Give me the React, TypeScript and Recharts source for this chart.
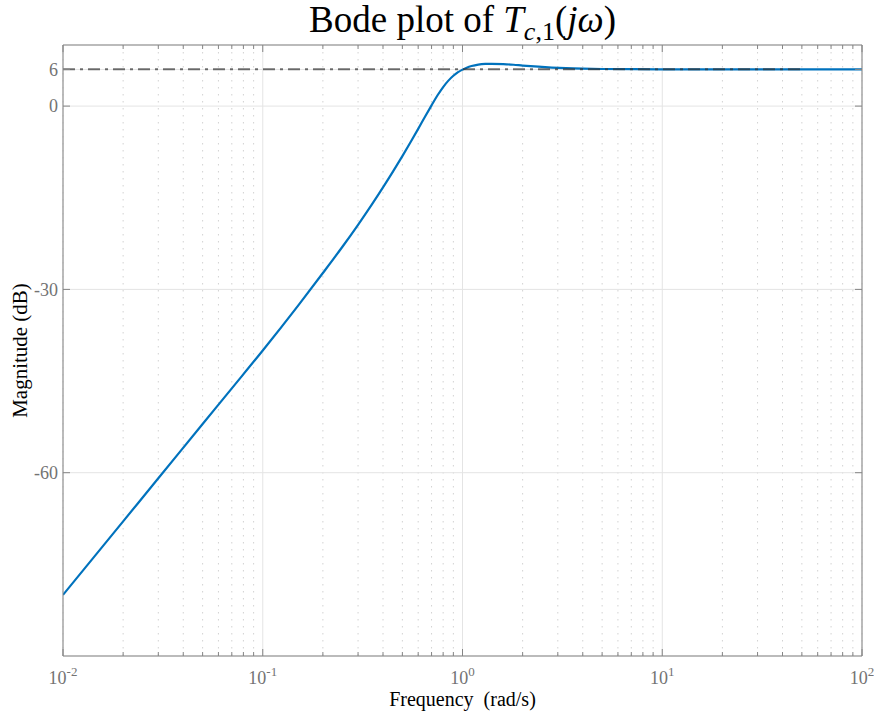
import React from 'react';
import { LineChart, Line, XAxis, YAxis, CartesianGrid } from 'recharts';

// magnitude response (rad/s, dB)
const freq = [
  0.01, 0.02, 0.03, 0.05, 0.07, 0.1, 0.15, 0.2, 0.25, 0.3, 0.35, 0.4, 0.45, 0.5, 0.55, 0.6,
  0.65, 0.7, 0.75, 0.8, 0.85, 0.9, 0.95, 1.0, 1.05, 1.11, 1.2, 1.3, 1.4, 1.6, 1.8, 2.0, 2.4, 2.8,
  3.3, 4.0, 5.0, 7, 10, 20, 50, 100,
];
const magnitude = [
  -80, -67.96, -60.92, -52.04, -46.2, -40, -32.69, -27.32, -23.06, -19.42, -16.21, -13.31, -10.65, -8.18, -5.88, -3.73,
  -1.71, 0.12, 1.77, 3.12, 4.17, 4.96, 5.55, 5.97, 6.29, 6.56, 6.8, 6.9, 6.92, 6.87, 6.77, 6.64, 6.45, 6.31,
  6.2, 6.12, 6.07, 6.04, 6.02, 6.02, 6.02, 6.02,
];

// high-frequency asymptote (dash-dot)
const asymptoteFreq = [0.01, 50];
const asymptoteDb = [6.02, 6.02];

const xTicks = [0.01, 0.1, 1, 10, 100];
const xTickExponents = ['-2', '-1', '0', '1', '2'];
const xMinorTicks = [
  0.02, 0.03, 0.04, 0.05, 0.06, 0.07, 0.08, 0.09,
  0.2, 0.3, 0.4, 0.5, 0.6, 0.7, 0.8, 0.9,
  2, 3, 4, 5, 6, 7, 8, 9,
  20, 30, 40, 50, 60, 70, 80, 90,
];
const yTicks = [-60, -30, 0, 6];

const W = 874;
const H = 711;
const FONT = '"Liberation Serif", "Times New Roman", serif';
const TICK_COLOR = '#737373';
const AXIS_COLOR = '#858585';
const BLUE = '#0072BD';
const MAJOR_LEN = 7;
const MINOR_LEN = 4;

const data = freq.map((f, i) => ({ f, mag: magnitude[i] }));
const asymptote = asymptoteFreq.map((f, i) => ({ f, mag: asymptoteDb[i] }));
const allXTicks = [...xTicks, ...xMinorTicks].sort((a, b) => a - b);

// bottom axis: inward tick mark + 10^n label
function BottomTick(props: any) {
  const { x, y, payload } = props;
  const i = xTicks.indexOf(payload.value);
  const major = i >= 0;
  return (
    <g>
      <line x1={x} x2={x} y1={y} y2={y - (major ? MAJOR_LEN : MINOR_LEN)} stroke={AXIS_COLOR} />
      {major && (
        <text x={x} y={y + 28} textAnchor="middle" fill={TICK_COLOR} fontFamily={FONT} fontSize={18}>
          <tspan>10</tspan>
          <tspan dy={-8} fontSize={13}>{xTickExponents[i]}</tspan>
        </text>
      )}
    </g>
  );
}

function TopTick(props: any) {
  const { x, y, payload } = props;
  const major = xTicks.includes(payload.value);
  return <line x1={x} x2={x} y1={y} y2={y + (major ? MAJOR_LEN : MINOR_LEN)} stroke={AXIS_COLOR} />;
}

function LeftTick(props: any) {
  const { x, y, payload } = props;
  return (
    <g>
      <line x1={x} x2={x + MAJOR_LEN} y1={y} y2={y} stroke={AXIS_COLOR} />
      <text x={x - 5} y={y} dy="0.35em" textAnchor="end" fill={TICK_COLOR} fontFamily={FONT} fontSize={18}>
        {payload.value}
      </text>
    </g>
  );
}

function RightTick(props: any) {
  const { x, y } = props;
  return <line x1={x} x2={x - MAJOR_LEN} y1={y} y2={y} stroke={AXIS_COLOR} />;
}

export default function App() {
  const common = {
    type: 'number' as const,
    scale: 'log' as const,
    domain: [0.01, 100],
    allowDataOverflow: true,
    dataKey: 'f',
    interval: 0 as const,
    tickLine: false,
    tickSize: 0,
    tickMargin: 0,
  };
  return (
    <div style={{ position: 'absolute', left: 0, top: 0, background: '#fff' }}>
      <LineChart width={W} height={H} data={data} margin={{ top: 44, right: 11, bottom: 54, left: 62 }}>
        <CartesianGrid xAxisId="minor" yAxisId="left" horizontal={false} stroke="#d2d2d2" strokeDasharray="1.5 5.5" />
        <CartesianGrid xAxisId="major" yAxisId="left" stroke="#e4e4e4" />

        <XAxis {...common} xAxisId="minor" ticks={xMinorTicks} hide />
        <XAxis {...common} xAxisId="major" ticks={xTicks} hide />
        <XAxis
          {...common}
          xAxisId="top"
          orientation="top"
          height={1}
          ticks={allXTicks}
          tick={<TopTick />}
          axisLine={{ stroke: AXIS_COLOR }}
          label={{
            content: (p: any) => {
              const vb = p.viewBox;
              return (
                <text x={vb.x + vb.width / 2} y={vb.y - 12} textAnchor="middle" fill="#000" fontFamily={FONT} fontSize={37}>
                  <tspan>Bode plot of </tspan>
                  <tspan fontStyle="italic">T</tspan>
                  <tspan dy={8} fontSize={26} fontStyle="italic">c</tspan>
                  <tspan fontSize={26}>,1</tspan>
                  <tspan dy={-8}>(</tspan>
                  <tspan fontStyle="italic">jω</tspan>
                  <tspan>)</tspan>
                </text>
              );
            },
          }}
        />
        <XAxis
          {...common}
          xAxisId="main"
          height={1}
          ticks={allXTicks}
          tick={<BottomTick />}
          axisLine={{ stroke: AXIS_COLOR }}
          label={{
            content: (p: any) => {
              const vb = p.viewBox;
              return (
                <text
                  x={vb.x + vb.width / 2}
                  y={vb.y + 50}
                  textAnchor="middle"
                  fill="#000"
                  fontFamily={FONT}
                  fontSize={20}
                  style={{ whiteSpace: 'pre' }}
                >
                  {'Frequency  (rad/s)'}
                </text>
              );
            },
          }}
        />

        <YAxis
          yAxisId="left"
          type="number"
          domain={[-90, 10]}
          allowDataOverflow
          ticks={yTicks}
          interval={0}
          width={1}
          tick={<LeftTick />}
          tickLine={false}
          tickSize={0}
          tickMargin={0}
          axisLine={{ stroke: AXIS_COLOR }}
          label={{
            content: (p: any) => {
              const vb = p.viewBox;
              const cx = vb.x + vb.width - 36;
              const cy = vb.y + vb.height / 2;
              return (
                <text
                  x={cx}
                  y={cy}
                  textAnchor="middle"
                  transform={`rotate(-90 ${cx} ${cy})`}
                  fill="#000"
                  fontFamily={FONT}
                  fontSize={21}
                >
                  Magnitude (dB)
                </text>
              );
            },
          }}
        />
        <YAxis
          yAxisId="right"
          orientation="right"
          type="number"
          domain={[-90, 10]}
          allowDataOverflow
          ticks={yTicks}
          interval={0}
          width={1}
          tick={<RightTick />}
          tickLine={false}
          tickSize={0}
          tickMargin={0}
          axisLine={{ stroke: AXIS_COLOR }}
        />

        <Line
          xAxisId="main"
          yAxisId="left"
          type="monotone"
          dataKey="mag"
          stroke={BLUE}
          strokeWidth={2.2}
          dot={false}
          isAnimationActive={false}
        />
        <Line
          xAxisId="main"
          yAxisId="left"
          data={asymptote}
          type="linear"
          dataKey="mag"
          stroke="#333"
          strokeOpacity={0.7}
          strokeWidth={2}
          strokeDasharray="12 5 3 5"
          dot={false}
          isAnimationActive={false}
        />
      </LineChart>
    </div>
  );
}
